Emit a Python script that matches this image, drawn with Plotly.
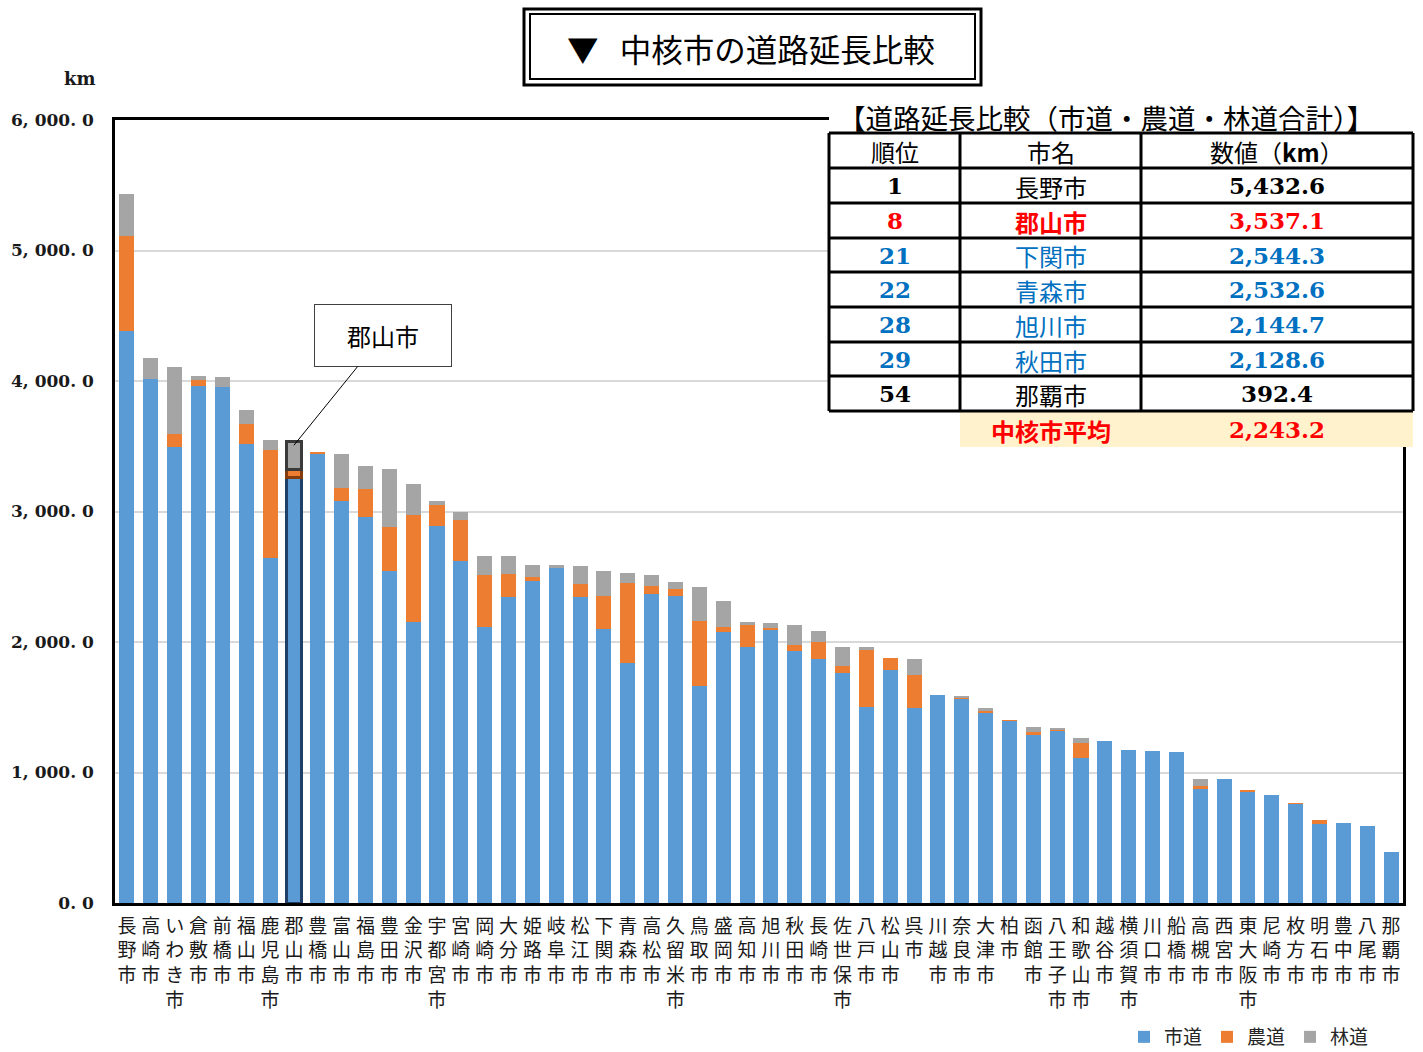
import plotly.graph_objects as go

# ---------------- data ----------------
cities = ["長野市", "高崎市", "いわき市", "倉敷市", "前橋市", "福山市", "鹿児島市", "郡山市",
          "豊橋市", "富山市", "福島市", "豊田市", "金沢市", "宇都宮市", "宮崎市", "岡崎市",
          "大分市", "姫路市", "岐阜市", "松江市", "下関市", "青森市", "高松市", "久留米市",
          "鳥取市", "盛岡市", "高知市", "旭川市", "秋田市", "長崎市", "佐世保市", "八戸市",
          "松山市", "呉市", "川越市", "奈良市", "大津市", "柏市", "函館市", "八王子市",
          "和歌山市", "越谷市", "横須賀市", "川口市", "船橋市", "高槻市", "西宮市", "東大阪市",
          "尼崎市", "枚方市", "明石市", "豊中市", "八尾市", "那覇市"]

shido = [4385, 4012, 3491, 3958, 3956, 3519, 2645, 3262, 3448, 3078, 2955, 2544, 2150, 2891,
         2623, 2117, 2345, 2469, 2567, 2347, 2101, 1839, 2369, 2352, 1665, 2073, 1964, 2097,
         1931, 1872, 1764, 1501, 1783, 1496, 1591, 1565, 1456, 1395, 1292, 1320, 1113, 1241,
         1172, 1162, 1157, 876, 950, 858, 828, 763, 607, 613, 590, 392.4]

nodo = [725, 0, 105, 52, 0, 154, 826, 60.5, 5, 104, 215, 337, 825, 161, 312, 398, 178, 26, 0,
        99, 253, 613, 62, 54, 493, 42, 163, 12, 48, 125, 54, 440, 94, 253, 0, 5, 15, 7, 15, 13,
        115, 0, 0, 0, 0, 18, 0, 5, 0, 3, 27, 0, 0, 0]

rindo = [322.6, 161, 513, 26, 74, 105, 77, 214.6, 0, 261, 179, 442, 233, 28, 61, 146, 136, 97,
         25, 133, 190.3, 80.6, 82, 54, 263, 199, 28, 35.7, 149.6, 84, 144, 21, 0, 123, 0, 18, 20,
         0, 44, 8, 33, 0, 0, 0, 0, 56, 0, 0, 0, 0, 0, 0, 0, 0]

series_names = ["市道", "農道", "林道"]
y_ticks = [0, 1000, 2000, 3000, 4000, 5000, 6000]

highlight = "郡山市"

table_ranks = [1, 8, 21, 22, 28, 29, 54]
table_names = ["長野市", "郡山市", "下関市", "青森市", "旭川市", "秋田市", "那覇市"]
table_values = [5432.6, 3537.1, 2544.3, 2532.6, 2144.7, 2128.6, 392.4]
table_colors = ["#000000", "#FF0000", "#0070C0", "#0070C0", "#0070C0", "#0070C0", "#000000"]
average_value = 2243.2

# ---------------- layout helpers ----------------
W, H = 1423, 1052
L, R, T, B = 115, 1403, 120, 903


def px(x):
    return (x - L) / (R - L)


def py(y):
    return (B - y) / (B - T)


JP = "Noto Sans CJK JP"
SERIF = "DejaVu Serif"

fig = go.Figure()

styles = [("#5B9BD5", "#1F3F66"), ("#ED7D31", "#843C0C"), ("#A5A5A5", "#3A3A3A")]
for name, vals, (col, hcol) in zip(series_names, [shido, nodo, rindo], styles):
    lw = [2.5 if c == highlight else 0 for c in cities]
    lc = [hcol if c == highlight else col for c in cities]
    fig.add_bar(x=cities, y=vals, name=name,
                marker=dict(color=col, line=dict(width=lw, color=lc)))

fig.update_layout(
    width=W, height=H, autosize=False,
    barmode="stack", bargap=0.37,
    paper_bgcolor="white", plot_bgcolor="white",
    margin=dict(l=L, r=W - R, t=T, b=H - B, pad=0, autoexpand=False),
    showlegend=True,
    legend=dict(orientation="h", xref="container", yref="container",
                x=1374 / W, xanchor="right", y=1 - 1037 / H, yanchor="middle",
                font=dict(family=JP, size=19, color="#262626"), itemwidth=30,
                traceorder="normal", bgcolor="rgba(0,0,0,0)"),
    font=dict(family=JP),
)

fig.update_xaxes(
    type="category", tickvals=cities, ticktext=["<br>".join(c) for c in cities],
    tickangle=0, tickfont=dict(family=JP, size=19, color="#1a1a1a"),
    showline=True, linecolor="black", linewidth=2.5, mirror=True,
    showgrid=False, ticks="", automargin=False, ticklabelstandoff=4,
)

fig.update_yaxes(
    range=[0, 6000], tickvals=y_ticks,
    ticktext=[f"{v:,.1f}".replace(",", ", ").replace(".", ". ") for v in y_ticks],
    tickfont=dict(family=SERIF, size=17, color="#1a1a1a", weight="bold"),
    showgrid=True, gridcolor="#D9D9D9", gridwidth=2,
    showline=True, linecolor="black", linewidth=2.5, mirror=True,
    ticks="", automargin=False, ticklabelstandoff=15, zeroline=False,
)

shapes = []
annots = []

# "km" unit label
annots.append(dict(xref="paper", yref="paper", x=px(80), y=py(78), text="<b>km</b>",
                   showarrow=False, font=dict(family=SERIF, size=18, color="#1a1a1a"),
                   xanchor="center", yanchor="middle"))

# title double box
shapes.append(dict(type="rect", xref="paper", yref="paper", x0=px(524), x1=px(981), y0=py(9), y1=py(85),
                   line=dict(color="black", width=3), fillcolor="white", layer="above"))
shapes.append(dict(type="rect", xref="paper", yref="paper", x0=px(530), x1=px(975), y0=py(14), y1=py(79),
                   line=dict(color="black", width=2), fillcolor="rgba(0,0,0,0)", layer="above"))
annots.append(dict(xref="paper", yref="paper", x=px(751), y=py(48),
                   text="▼\u00a0\u00a0\u00a0中核市の道路延長比較", showarrow=False,
                   font=dict(family=JP, size=31.5, color="black"), xanchor="center", yanchor="middle"))

# callout for Koriyama
k = cities.index(highlight)
annots.append(dict(x=highlight, y=shido[k] + nodo[k] + rindo[k] - 30, xref="x", yref="y",
                   text="郡山市", showarrow=True, arrowhead=0, arrowwidth=1, arrowcolor="black",
                   ax=89, ay=-110, standoff=0, bordercolor="#404040", borderwidth=1, borderpad=0,
                   bgcolor="white", width=136, height=61,
                   font=dict(family=JP, size=24, color="black")))

# ---------------- table ----------------
col_x = [829, 960, 1141, 1413]
row_y = [133, 168, 203, 238, 272, 307, 342, 376, 411]
foot_y = 447

# background for table title + table
shapes.append(dict(type="rect", xref="paper", yref="paper", x0=px(829), x1=px(1418), y0=py(100), y1=py(133),
                   line=dict(width=0), fillcolor="white", layer="above"))
shapes.append(dict(type="rect", xref="paper", yref="paper", x0=px(col_x[0]), x1=px(col_x[-1]),
                   y0=py(row_y[0]), y1=py(row_y[-1]), line=dict(width=0), fillcolor="white", layer="above"))
shapes.append(dict(type="rect", xref="paper", yref="paper", x0=px(col_x[1]), x1=px(col_x[-1]),
                   y0=py(row_y[-1]), y1=py(foot_y), line=dict(width=0), fillcolor="#FFF2CC", layer="above"))
for yy in row_y:
    shapes.append(dict(type="line", xref="paper", yref="paper", x0=px(col_x[0]), x1=px(col_x[-1]),
                       y0=py(yy), y1=py(yy), line=dict(color="black", width=3), layer="above"))
for xx in col_x:
    shapes.append(dict(type="line", xref="paper", yref="paper", x0=px(xx), x1=px(xx),
                       y0=py(row_y[0]), y1=py(row_y[-1]), line=dict(color="black", width=3), layer="above"))

annots.append(dict(xref="paper", yref="paper", x=px(1106), y=py(117),
                   text="【道路延長比較（市道・農道・林道合計）】", showarrow=False,
                   font=dict(family=JP, size=27.5, color="black"), xanchor="center", yanchor="middle"))

col_c = [(col_x[i] + col_x[i + 1]) / 2 for i in range(3)]
header = ["順位", "市名", "数値（<b>km</b>）"]
hy = (row_y[0] + row_y[1]) / 2
for cx, htext in zip(col_c, header):
    annots.append(dict(xref="paper", yref="paper", x=px(cx), y=py(hy + 1), text=htext, showarrow=False,
                       font=dict(family=JP, size=24, color="black"), xanchor="center", yanchor="middle"))

for i, (rk, nm, val, colr) in enumerate(zip(table_ranks, table_names, table_values, table_colors)):
    cy = (row_y[i + 1] + row_y[i + 2]) / 2
    annots.append(dict(xref="paper", yref="paper", x=px(col_c[0]), y=py(cy), text=f"<b>{rk}</b>",
                       showarrow=False, font=dict(family=SERIF, size=23, color=colr),
                       xanchor="center", yanchor="middle"))
    nm_txt = f"<b>{nm}</b>" if nm == highlight else nm
    annots.append(dict(xref="paper", yref="paper", x=px(col_c[1]), y=py(cy + 1), text=nm_txt,
                       showarrow=False, font=dict(family=JP, size=24, color=colr),
                       xanchor="center", yanchor="middle"))
    annots.append(dict(xref="paper", yref="paper", x=px(col_c[2]), y=py(cy), text=f"<b>{val:,.1f}</b>",
                       showarrow=False, font=dict(family=SERIF, size=23, color=colr),
                       xanchor="center", yanchor="middle"))

fy = (row_y[-1] + foot_y) / 2
annots.append(dict(xref="paper", yref="paper", x=px(col_c[1]), y=py(fy + 1), text="<b>中核市平均</b>",
                   showarrow=False, font=dict(family=JP, size=24, color="#FF0000"),
                   xanchor="center", yanchor="middle"))
annots.append(dict(xref="paper", yref="paper", x=px(col_c[2]), y=py(fy), text=f"<b>{average_value:,.1f}</b>",
                   showarrow=False, font=dict(family=SERIF, size=23, color="#FF0000"),
                   xanchor="center", yanchor="middle"))

fig.update_layout(shapes=shapes, annotations=annots)

fig.write_html("out.html", config={"displayModeBar": False},
               post_script="document.body.style.margin='0';document.body.style.overflow='hidden';")
